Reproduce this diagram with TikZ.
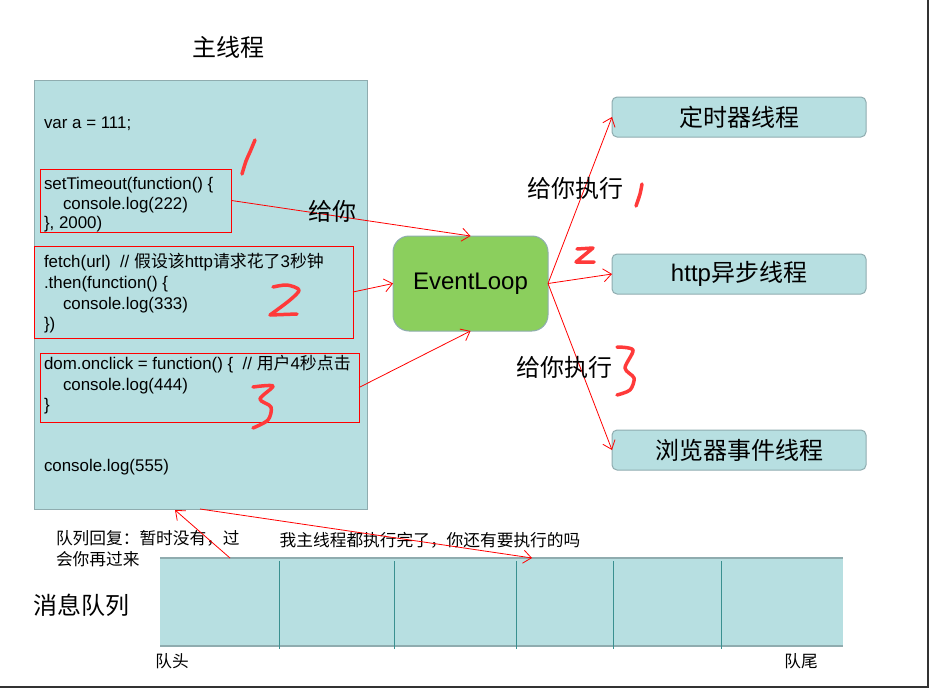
\documentclass[tikz,border=0pt]{standalone}
\usepackage{fontspec}
\setmainfont{Liberation Sans}
\newfontfamily\cjk{Noto Sans CJK SC}
\usetikzlibrary{arrows.meta}
\definecolor{boxcyan}{HTML}{B7DFE1}
\definecolor{boxgray}{HTML}{8FACAF}
\definecolor{loopgreen}{HTML}{8BCF5D}
\definecolor{penred}{HTML}{FF3A3A}
\definecolor{divteal}{HTML}{3A9090}
\newcommand{\zh}[1]{{\cjk #1}}
\newcommand{\codesz}{\fontsize{16.9}{20}\selectfont}
\newcommand{\bigsz}{\fontsize{24}{28}\selectfont}
\newcommand{\smallsz}{\fontsize{16.7}{20}\selectfont}

\begin{document}
\begin{tikzpicture}[x=1pt,y=-1pt,
    every node/.style={inner sep=0pt,outer sep=0pt},
    cyanbox/.style={fill=boxcyan,draw=boxgray,line width=1pt},
    redbox/.style={draw=red,line width=0.9pt},
    code/.style={anchor=base west,font=\codesz},
    link/.style={draw=red,line width=0.8pt,-{Straight Barb[length=8pt,width=13pt]}},
    hand/.style={penred,line width=3.5pt,line cap=round,line join=round}]
     \useasboundingbox (0,0) rectangle (929,688);
     % main thread
     \draw (228,47) node (title) {\bigsz\zh{主线程}};
     \node[cyanbox,minimum width=333,minimum height=429] (main) at (200.5,294.5) {};
     \node[redbox,minimum width=191,minimum height=63] (box1) at (136,200.5) {};
     \node[redbox,minimum width=319,minimum height=92] (box2) at (193.5,292) {};
     \node[redbox,minimum width=319,minimum height=69] (box3) at (199.5,387.5) {};
     \draw (44,128) node[code] (v1) {var a = 111;};
     \draw (44,189) node[code] (t1) {setTimeout(function() \{};
     \draw (63,209) node[code] (t2) {console.log(222)};
     \draw (44,228) node[code] (t3) {\}, 2000)};
     \draw (44,267) node[code] (f1) {fetch(url)\ \ // \zh{假设该}http\zh{请求花了}3\zh{秒钟}};
     \draw (44,288) node[code] (f2) {.then(function() \{};
     \draw (63,309) node[code] (f3) {console.log(333)};
     \draw (44,329) node[code] (f4) {\})};
     \draw (44,369) node[code] (d1) {dom.onclick = function() \{\ \ // \zh{用户}4\zh{秒点击}};
     \draw (63,390) node[code] (d2) {console.log(444)};
     \draw (44,410) node[code] (d3) {\}};
     \draw (44,471) node[code] (l5) {console.log(555)};
     % event loop and threads
     \node[fill=loopgreen,draw=boxgray,line width=1pt,rounded corners=16pt,
       minimum width=155,minimum height=95] (loop) at (470.5,283.5) {\bigsz EventLoop};
     \node[cyanbox,rounded corners=5pt,minimum width=254,minimum height=40] (timer) at (739,117) {\bigsz\zh{定时器线程}};
     \node[cyanbox,rounded corners=5pt,minimum width=254,minimum height=40] (http) at (739,274) {\bigsz http\zh{异步线程}};
     \node[cyanbox,rounded corners=5pt,minimum width=254,minimum height=40] (dom) at (739,450) {\bigsz\zh{浏览器事件线程}};
     \draw[link] (box1.east) -- (loop.north);
     \draw[link] (box2.east) -- (loop.west);
     \draw[link] (box3.east) -- (loop.south);
     \draw[link] (loop.east) -- (timer.west);
     \draw[link] (loop.east) -- (http.west);
     \draw[link] (loop.east) -- (dom.west);
     \draw (332,211) node (give) {\bigsz\zh{给你}};
     \draw (575,188) node (run1) {\bigsz\zh{给你执行}};
     \draw (564,367) node (run3) {\bigsz\zh{给你执行}};
     % message queue
     \node[fill=boxcyan,minimum width=683,minimum height=88] (queue) at (501.5,602) {};
     \draw[boxgray,line width=1.2pt] (queue.north west) -- (queue.north east)
       (queue.south west) -- (queue.south east);
     \foreach \x in {279,394,516,613,721}
       \draw[divteal,line width=0.8pt] (\x,561) -- (\x,649);
     \draw (82,605) node (qname) {\bigsz\zh{消息队列}};
     \draw (172,661) node (head) {\smallsz\zh{队头}};
     \draw (801,661) node (tail) {\smallsz\zh{队尾}};
     \draw (56,538) node[anchor=west] (reply1) {\smallsz\zh{队列回复：暂时没有，过}};
     \draw (56,559) node[anchor=west] (reply2) {\smallsz\zh{会你再过来}};
     \draw (430,540) node (ask) {\smallsz\zh{我主线程都执行完了，你还有要执行的吗}};
     \coordinate (qa) at (230,558);
     \coordinate (ma) at (175,510);
     \coordinate (mb) at (200,509);
     \coordinate (qb) at (532,558);
     \draw[link] (qa) -- (ma);
     \draw[link] (mb) -- (qb);
     % handwritten numbers
     \draw[hand] plot[smooth] coordinates {(255,140) (250,152) (246,161) (242,174)};
     \draw[hand] plot[smooth] coordinates {(642,184) (640,194) (636,206)};
     \draw[hand] (577,249) -- (593,248) -- (576,262) -- (594,262);
     \draw[hand] plot[smooth] coordinates {(273,287) (287,285) (299,290) (290,300) (270,315)}
       -- (297,314);
     \draw[hand] plot[smooth] coordinates {(253,387) (273,386) (260,399) (271,407) (268,420) (253,428)};
     \draw[hand] plot[smooth] coordinates {(617,347) (633,350) (625,368) (634,378) (630,390) (617,395)};
     % frame
     \draw[black!80,line width=2pt] (928,0) -- (928,687) -- (0,687);
    \end{tikzpicture}
\end{document}
